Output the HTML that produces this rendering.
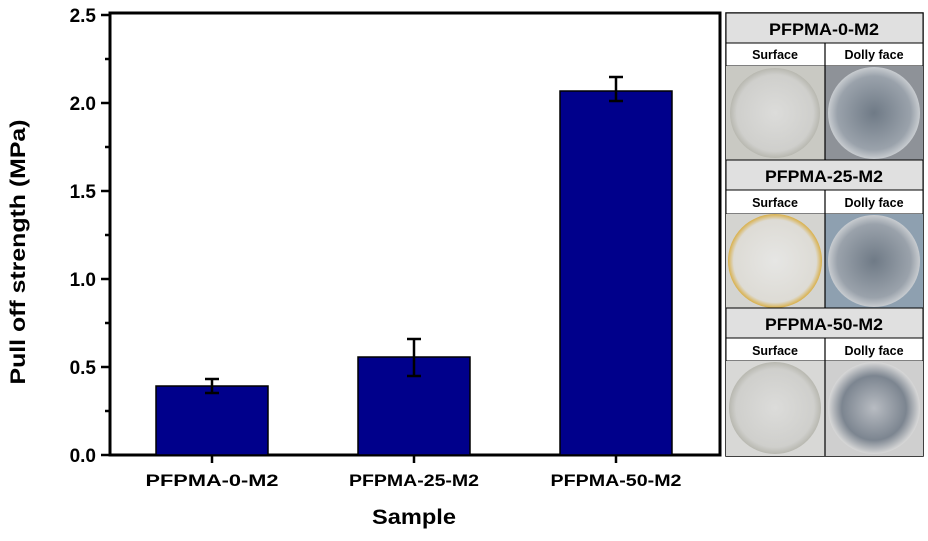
<!DOCTYPE html>
<html><head><meta charset="utf-8"><style>
body{margin:0;background:#fff;width:928px;height:536px;overflow:hidden;font-family:"Liberation Sans",sans-serif}
</style></head><body>
<svg width="928" height="536" xmlns="http://www.w3.org/2000/svg" font-family="Liberation Sans, sans-serif">
<defs>
<radialGradient id="light" cx="50%" cy="50%" r="50%"><stop offset="0" stop-color="#dcdcda"/><stop offset="0.85" stop-color="#cfcfcc"/><stop offset="1" stop-color="#b8b8b0"/></radialGradient>
<radialGradient id="dark" cx="50%" cy="50%" r="50%"><stop offset="0" stop-color="#6f7a86"/><stop offset="0.8" stop-color="#9aa2ab"/><stop offset="1" stop-color="#c8ccd0"/></radialGradient>
<radialGradient id="yel" cx="50%" cy="50%" r="50%"><stop offset="0" stop-color="#e6e6e4"/><stop offset="0.88" stop-color="#dddbd5"/><stop offset="1" stop-color="#d9b04a"/></radialGradient>
<radialGradient id="dark3" cx="50%" cy="50%" r="50%"><stop offset="0" stop-color="#b8bcc2"/><stop offset="0.7" stop-color="#7c8590"/><stop offset="1" stop-color="#d8d8d8"/></radialGradient>
</defs>
<rect x="110" y="13" width="610" height="442" fill="none" stroke="#000" stroke-width="3"/>
<g stroke="#000" stroke-width="2.5">
<line x1="101" y1="455" x2="110" y2="455"/><line x1="105" y1="411" x2="110" y2="411"/>
<line x1="101" y1="367" x2="110" y2="367"/><line x1="105" y1="323" x2="110" y2="323"/>
<line x1="101" y1="279" x2="110" y2="279"/><line x1="105" y1="235" x2="110" y2="235"/>
<line x1="101" y1="191" x2="110" y2="191"/><line x1="105" y1="147" x2="110" y2="147"/>
<line x1="101" y1="103" x2="110" y2="103"/><line x1="105" y1="59" x2="110" y2="59"/>
<line x1="101" y1="15" x2="110" y2="15"/>
<line x1="212" y1="455" x2="212" y2="463"/><line x1="414" y1="455" x2="414" y2="463"/><line x1="616" y1="455" x2="616" y2="463"/>
</g>
<g font-size="19" font-weight="bold" text-anchor="end">
<text x="96" y="462">0.0</text><text x="96" y="374">0.5</text><text x="96" y="286">1.0</text>
<text x="96" y="198">1.5</text><text x="96" y="110">2.0</text><text x="96" y="22">2.5</text>
</g>
<text transform="translate(25,252) rotate(-90)" font-size="21" font-weight="bold" text-anchor="middle" textLength="265" lengthAdjust="spacingAndGlyphs">Pull off strength (MPa)</text>
<g font-size="17" font-weight="bold" text-anchor="middle">
<text x="212" y="486" textLength="133" lengthAdjust="spacingAndGlyphs">PFPMA-0-M2</text>
<text x="414" y="486" textLength="130" lengthAdjust="spacingAndGlyphs">PFPMA-25-M2</text>
<text x="616" y="486" textLength="131" lengthAdjust="spacingAndGlyphs">PFPMA-50-M2</text>
</g>
<text x="414" y="524" font-size="21" font-weight="bold" text-anchor="middle" textLength="84" lengthAdjust="spacingAndGlyphs">Sample</text>
<g fill="#00008b" stroke="#000" stroke-width="1.5">
<rect x="156" y="386" width="112" height="69"/>
<rect x="358" y="357" width="112" height="98"/>
<rect x="560" y="91" width="112" height="364"/>
</g>
<g stroke="#000" stroke-width="2.5">
<line x1="212" y1="379" x2="212" y2="393"/><line x1="205" y1="379" x2="219" y2="379"/><line x1="205" y1="393" x2="219" y2="393"/>
<line x1="414" y1="339" x2="414" y2="376"/><line x1="407" y1="339" x2="421" y2="339"/><line x1="407" y1="376" x2="421" y2="376"/>
<line x1="616" y1="77" x2="616" y2="101"/><line x1="609" y1="77" x2="623" y2="77"/><line x1="609" y1="101" x2="623" y2="101"/>
</g>
<g>
<rect x="726" y="13" width="197" height="443" fill="#fff" stroke="#000" stroke-width="1.5"/>
<rect x="726" y="13" width="197" height="30" fill="#e0e0e0" stroke="#000"/>
<rect x="726" y="43" width="197" height="23" fill="#fff" stroke="#000"/>
<rect x="726" y="66" width="99" height="94" fill="#c9c9c3"/><circle cx="775" cy="113" r="45" fill="url(#light)"/>
<rect x="825" y="66" width="98" height="94" fill="#8e9298"/><circle cx="874" cy="113" r="46" fill="url(#dark)"/>
<rect x="726" y="160" width="197" height="30" fill="#e0e0e0" stroke="#000"/>
<rect x="726" y="190" width="197" height="24" fill="#fff" stroke="#000"/>
<rect x="726" y="214" width="99" height="94" fill="#d4d4d0"/><circle cx="775" cy="261" r="47" fill="url(#yel)"/>
<rect x="825" y="214" width="98" height="94" fill="#8ea0b0"/><circle cx="874" cy="261" r="46" fill="url(#dark)"/>
<rect x="726" y="308" width="197" height="30" fill="#e0e0e0" stroke="#000"/>
<rect x="726" y="338" width="197" height="23" fill="#fff" stroke="#000"/>
<rect x="726" y="361" width="99" height="95" fill="#d8d8d6"/><circle cx="775" cy="408" r="46" fill="url(#light)"/>
<rect x="825" y="361" width="98" height="95" fill="#cfcfcf"/><circle cx="874" cy="408" r="46" fill="url(#dark3)"/>
<g stroke="#000" stroke-width="1.2"><line x1="825" y1="43" x2="825" y2="160"/><line x1="825" y1="190" x2="825" y2="308"/><line x1="825" y1="338" x2="825" y2="456"/></g>
<g font-weight="bold" text-anchor="middle">
<text x="824" y="35" font-size="17" textLength="110" lengthAdjust="spacingAndGlyphs">PFPMA-0-M2</text>
<text x="824" y="182" font-size="17" textLength="118" lengthAdjust="spacingAndGlyphs">PFPMA-25-M2</text>
<text x="824" y="330" font-size="17" textLength="118" lengthAdjust="spacingAndGlyphs">PFPMA-50-M2</text>
<g font-size="12.5">
<text x="775" y="59">Surface</text><text x="874" y="59">Dolly face</text>
<text x="775" y="207">Surface</text><text x="874" y="207">Dolly face</text>
<text x="775" y="355">Surface</text><text x="874" y="355">Dolly face</text>
</g></g>
</g>
</svg>
</body></html>
